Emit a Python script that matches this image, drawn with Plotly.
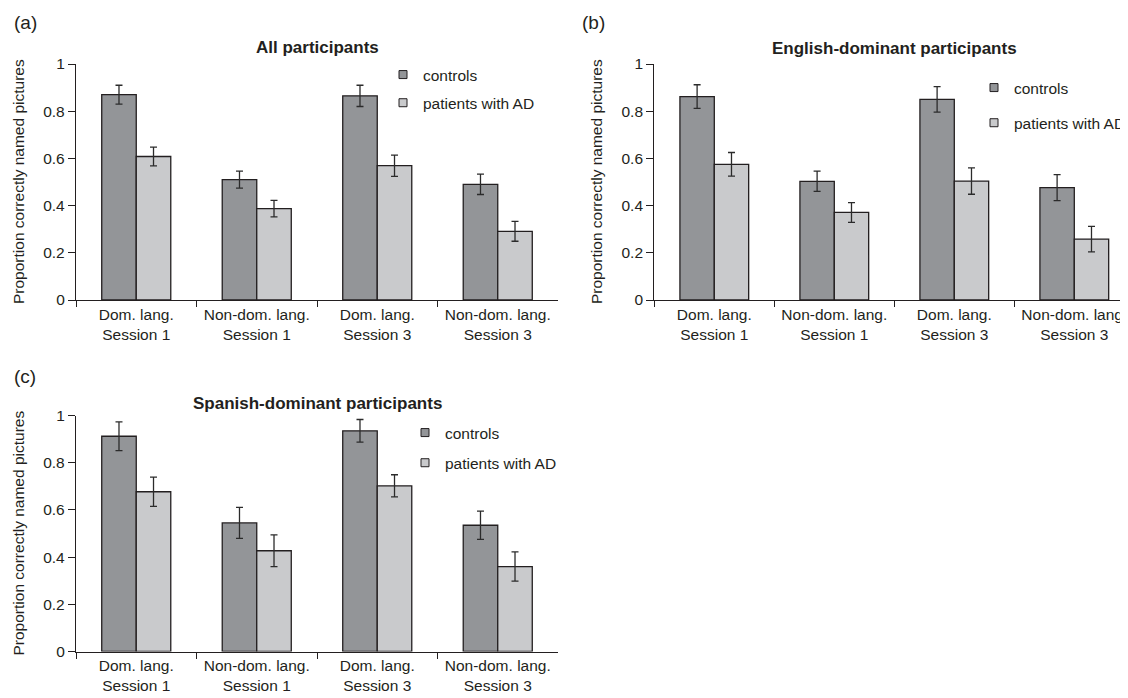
import plotly.graph_objects as go

# Page has an 8px body margin; figure is sized so it fills the 1128x698 window exactly.
OFF = 8
W, H = 1128 - OFF, 698 - OFF

categories = ["Dom. lang.<br>Session 1", "Non-dom. lang.<br>Session 1",
              "Dom. lang.<br>Session 3", "Non-dom. lang.<br>Session 3"]
y_ticks = [0, 0.2, 0.4, 0.6, 0.8, 1]
y_tick_labels = ["0", "0.2", "0.4", "0.6", "0.8", "1"]
series_names = ["controls", "patients with AD"]

# (a) All participants
all_controls = [0.870, 0.510, 0.865, 0.490]
all_controls_err = [0.040, 0.036, 0.045, 0.043]
all_patients = [0.608, 0.387, 0.569, 0.291]
all_patients_err = [0.040, 0.035, 0.045, 0.042]

# (b) English-dominant participants
eng_controls = [0.862, 0.503, 0.850, 0.476]
eng_controls_err = [0.050, 0.043, 0.054, 0.055]
eng_patients = [0.575, 0.371, 0.504, 0.258]
eng_patients_err = [0.050, 0.042, 0.056, 0.054]

# (c) Spanish-dominant participants
spa_controls = [0.912, 0.545, 0.935, 0.535]
spa_controls_err = [0.061, 0.066, 0.048, 0.060]
spa_patients = [0.677, 0.427, 0.702, 0.360]
spa_patients_err = [0.062, 0.067, 0.047, 0.062]

panel_titles = ["All participants", "English-dominant participants", "Spanish-dominant participants"]
panel_letters = ["(a)", "(b)", "(c)"]
y_title = "Proportion correctly named pictures"

FONT = "Liberation Sans, Arial, Helvetica, sans-serif"
FS = 15.5
C_CTRL = "#939598"
C_PAT = "#c9cacc"
C_LINE = "#231f20"


def px_x(p):
    return (p - OFF) / W


def px_y(p):
    return 1 - (p - OFF) / H


panels = [
    dict(xa="x", ya="y", lg="legend", xd=(76, 558), yd=(64, 300),
         data=(all_controls, all_controls_err, all_patients, all_patients_err), xend=3.5),
    dict(xa="x2", ya="y2", lg="legend2", xd=(654.3, 1128), yd=(64, 300),
         data=(eng_controls, eng_controls_err, eng_patients, eng_patients_err),
         xend=-0.5 + (1128 - 654.3) / 120.0),
    dict(xa="x3", ya="y3", lg="legend3", xd=(76, 558), yd=(415.5, 651.5),
         data=(spa_controls, spa_controls_err, spa_patients, spa_patients_err), xend=3.5),
]

fig = go.Figure()

for i, p in enumerate(panels):
    c, ce, pa, pe = p["data"]
    for vals, errs, color, name in [(c, ce, C_CTRL, series_names[0]), (pa, pe, C_PAT, series_names[1])]:
        fig.add_trace(go.Bar(
            x=categories, y=vals, name=name, xaxis=p["xa"], yaxis=p["ya"],
            marker=dict(color=color, line=dict(color=C_LINE, width=1.3)),
            error_y=dict(type="data", array=errs, visible=True, color="#2b2b2b",
                         thickness=1.3, width=3.5),
            showlegend=False, hoverinfo="skip",
        ))
        # legend entry (small square swatch like the original)
        fig.add_trace(go.Scatter(
            x=[None], y=[None], mode="markers", name=name,
            xaxis=p["xa"], yaxis=p["ya"], legend=p["lg"], legendgroup=f"{p['lg']}_{name}",
            marker=dict(symbol="square", size=8, color=color, line=dict(color=C_LINE, width=1)),
            showlegend=True, hoverinfo="skip",
        ))

layout = dict(
    width=W, height=H,
    margin=dict(l=0, r=0, t=0, b=0, autoexpand=False),
    paper_bgcolor="white", plot_bgcolor="white",
    template="none",
    barmode="group", bargap=0.427, bargroupgap=0,
    font=dict(family=FONT, size=FS, color="#231f20"),
    showlegend=True,
)

axis_names = [("xaxis", "yaxis"), ("xaxis2", "yaxis2"), ("xaxis3", "yaxis3")]
for i, p in enumerate(panels):
    xn, yn = axis_names[i]
    layout[xn] = dict(
        domain=[px_x(p["xd"][0]), min(1.0, px_x(p["xd"][1]))], anchor=p["ya"],
        type="category", range=[-0.5, p["xend"]],
        showline=True, linecolor=C_LINE, linewidth=1.3,
        ticks="outside", tickson="boundaries", ticklen=6, tickwidth=1.3, tickcolor=C_LINE,
        showgrid=False, zeroline=False, fixedrange=True,
        tickfont=dict(family=FONT, size=FS, color="#231f20"),
    )
    layout[yn] = dict(
        domain=[px_y(p["yd"][1]), px_y(p["yd"][0])], anchor=p["xa"],
        range=[0, 1], tickvals=y_ticks, ticktext=y_tick_labels,
        showline=True, linecolor=C_LINE, linewidth=1.3,
        ticks="outside", ticklen=7, tickwidth=1.3, tickcolor=C_LINE,
        showgrid=False, zeroline=False, fixedrange=True,
        tickfont=dict(family=FONT, size=FS, color="#231f20"),
    )

legend_pos = [(383, 58, 5), (974, 71, 12), (405, 416, 7)]
for i, p in enumerate(panels):
    lx, ly, gap = legend_pos[i]
    layout[p["lg"]] = dict(
        x=px_x(lx), y=px_y(ly), xanchor="left", yanchor="top",
        xref="paper", yref="paper",
        bgcolor="rgba(0,0,0,0)", borderwidth=0,
        font=dict(family=FONT, size=FS, color="#231f20"),
        traceorder="grouped", tracegroupgap=gap,
    )

fig.update_layout(**layout)

annotations = []
for (lx, ly), letter in zip([(12, 23), (580, 23), (12, 376)], panel_letters):
    annotations.append(dict(text=letter, x=px_x(lx), y=px_y(ly), xref="paper", yref="paper",
                            xanchor="left", yanchor="middle", showarrow=False,
                            font=dict(family=FONT, size=19, color="#231f20")))
for (tx, ty), t in zip([(317, 47), (894.3, 48), (317, 403)], panel_titles):
    annotations.append(dict(text=f"<b>{t}</b>", x=px_x(tx), y=px_y(ty), xref="paper", yref="paper",
                            xanchor="center", yanchor="middle", showarrow=False,
                            font=dict(family=FONT, size=17, color="#231f20")))
for (ax, ay) in [(18, 182), (596, 182), (18, 533.5)]:
    annotations.append(dict(text=y_title, x=px_x(ax), y=px_y(ay), xref="paper", yref="paper",
                            xanchor="center", yanchor="middle", showarrow=False, textangle=-90,
                            font=dict(family=FONT, size=FS, color="#231f20")))
fig.update_layout(annotations=annotations)

fig.write_html("out.html")
